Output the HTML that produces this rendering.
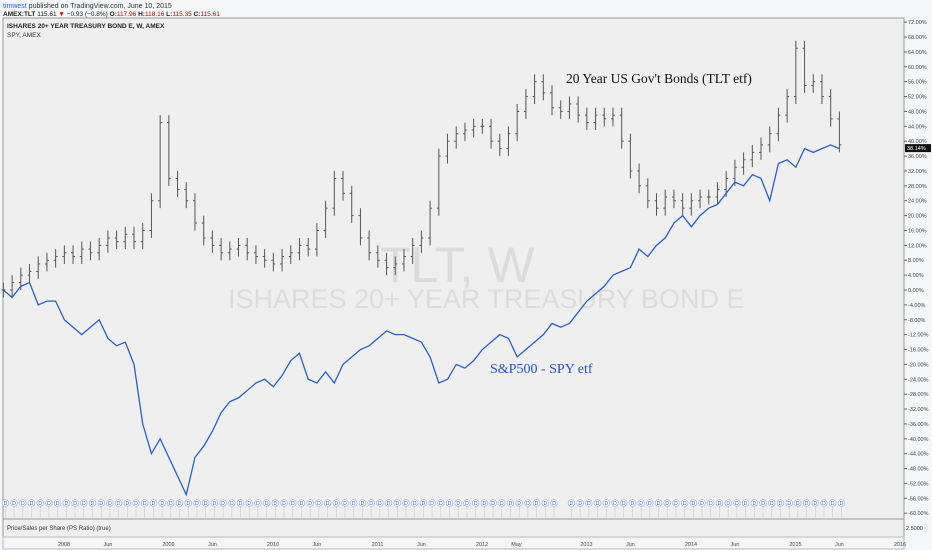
<!DOCTYPE html>
<html><head><meta charset="utf-8"><style>
body{margin:0;width:932px;height:550px;overflow:hidden;background:#fff;font-family:"Liberation Sans",sans-serif}
svg{display:block}
</style></head><body>
<svg id="c" width="932" height="550">
<rect x="0" y="0" width="932" height="550" fill="#f5f6f8"/>
<rect x="3" y="18" width="901" height="501" fill="#efefef" stroke="#999" stroke-width="1"/>
<rect x="3" y="519" width="901" height="18" fill="#efefef" stroke="#999"/>
<rect x="3" y="537" width="901" height="12" fill="#f5f5f5" stroke="#bbb"/>
<text x="380" y="282" font-size="50" fill="#dcdcdc">TLT, W</text>
<text x="228" y="308" font-size="27" fill="#dcdcdc">ISHARES 20+ YEAR TREASURY BOND E</text>
<g id="grid"></g><g id="tlt"></g><g id="spy"></g><g id="divs"></g><g id="yax"></g><g id="xax"></g>
<text x="3" y="8" font-size="7" fill="#333"><tspan fill="#2962ff">timwest</tspan> published on TradingView.com, June 10, 2015</text>
<text x="3" y="16" font-size="6.5" fill="#222" font-weight="bold">AMEX:TLT <tspan font-weight="normal">115.61 </tspan><tspan fill="#c00">▼</tspan><tspan font-weight="normal"> −0.93 (−0.8%) </tspan>O:<tspan fill="#c00" font-weight="normal">117.96</tspan> H:<tspan fill="#c00" font-weight="normal">118.16</tspan> L:<tspan fill="#c00" font-weight="normal">115.35</tspan> C:<tspan fill="#c00" font-weight="normal">115.61</tspan></text>
<text x="7" y="28" font-size="6.5" font-weight="bold" fill="#222">ISHARES 20+ YEAR TREASURY BOND E, W, AMEX</text>
<text x="7" y="37" font-size="6.5" fill="#333">SPY, AMEX</text>
<text x="566" y="83" font-size="13.5" font-family="Liberation Serif,serif" fill="#111">20 Year US Gov't Bonds (TLT etf)</text>
<text x="490" y="373" font-size="14" font-family="Liberation Serif,serif" fill="#2255c4">S&amp;P500 - SPY etf</text>
<text x="7" y="530" font-size="6" fill="#333">Price/Sales per Share (PS Ratio) (true)</text>
<text x="906" y="530" font-size="5.5" fill="#333">2.5000</text>
</svg>
<script>
const years=[2007.42];
const tltVals=[0,2,4,5,7,8,9,
10,9,11,10,12,14,13,15,13,16,24,45,
30,27,24,18,14,12,10,11,12,10,9,8,
7,9,10,12,11,16,22,30,26,20,14,10,
8,6,7,9,12,14,22,36,40,42,43,44,
44,40,38,42,48,52,56,53,49,48,50,47,
45,47,46,47,40,32,28,24,22,25,24,22,
24,25,25,27,30,33,35,37,39,42,47,52,
65,55,56,52,46,39];
const spyVals=[0,-2,1,2,-4,-3,-3,
-8,-10,-12,-10,-8,-13,-15,-14,-20,-36,-44,-40,
-45,-50,-55,-45,-42,-38,-33,-30,-29,-27,-25,-24,
-26,-23,-19,-17,-24,-25,-22,-25,-20,-18,-16,-15,
-13,-11,-12,-12,-13,-14,-18,-25,-24,-20,-21,-19,
-16,-14,-12,-13,-18,-16,-14,-12,-9,-10,-9,-6,
-3,-1,1,4,5,6,11,9,12,14,18,20,
17,20,22,23,26,29,28,31,30,24,34,35,
33,38,37,38,39,38];
const yTicks=[72,68,64,60,56,52,48,44,40,36,32,28,24,20,16,12,8,4,0,-4,-8,-12,-16,-20,-24,-28,-32,-36,-40,-44,-48,-52,-56,-60];
const xTickLabels=["2008","Jun","2009","Jun","2010","Jun","2011","Jun","2012","May","2013","Jun","2014","Jun","2015","Jun","2016"];
const xTickTimes=[2008,2008.42,2009,2009.42,2010,2010.42,2011,2011.42,2012,2012.33,2013,2013.42,2014,2014.42,2015,2015.42,2016];
const lastValue=38.14;
const NS="http://www.w3.org/2000/svg";
const X=t=>64+(t-2008)*104.5;
const Y=p=>290-p*3.72;
const tm=i=>years[0]+i/12;
function mk(tag,attrs,parent){const e=document.createElementNS(NS,tag);for(const k in attrs)e.setAttribute(k,attrs[k]);document.getElementById(parent).appendChild(e);return e;}
yTicks.forEach(v=>{
  const l=mk('line',{x1:904,x2:907,y1:Y(v),y2:Y(v),stroke:'#666'},'yax');
  
  
  const t=mk('text',{x:908,y:Y(v)+2,'font-size':5.5,fill:'#444'},'yax');
  t.textContent=v.toFixed(2)+'%';
  
  
});
const lb=mk('rect',{x:905,y:Y(lastValue)-4,width:26,height:8,fill:'#111'},'yax');


const lt=mk('text',{x:907,y:Y(lastValue)+2,'font-size':5.5,fill:'#fff'},'yax');
lt.textContent=lastValue.toFixed(2)+'%';


xTickLabels.forEach((s,i)=>{
  const t=mk('text',{x:X(xTickTimes[i]),y:546,'font-size':5.5,fill:'#444','text-anchor':'middle'},'xax');
  t.textContent=s;
  
  
});
tltVals.forEach((v,i)=>{
  const prev=i?tltVals[i-1]:v;
  const hi=Math.max(prev,v)+2, lo=Math.min(prev,v)-2, x=X(tm(i));
  const g=mk('g',{stroke:'#555','stroke-width':1},'tlt');
  
  
  [[x,Y(hi),x,Y(lo)],[x-2,Y(prev),x,Y(prev)],[x,Y(v),x+2,Y(v)]].forEach(a=>{
    const l=document.createElementNS(NS,'line');
    l.setAttribute('x1',a[0]);l.setAttribute('y1',a[1]);l.setAttribute('x2',a[2]);l.setAttribute('y2',a[3]);g.appendChild(l);
  });
});
const pl=mk('polyline',{points:spyVals.map((v,i)=>X(tm(i))+','+Y(v)).join(' '),fill:'none',stroke:'#2a5fc7','stroke-width':1.3},'spy');


for(let i=0;i<tltVals.length;i++){
  const x=X(tm(i))+2;
  if(Math.abs(x-566)<4) continue;
  const l=mk('line',{x1:x,x2:x,y1:507,y2:518,stroke:'#ccc','stroke-width':0.6},'divs');
  
  
  const c=mk('circle',{cx:x,cy:503,r:3.3,fill:'#fff',stroke:'#9bb4e0','stroke-width':0.7},'divs');
  
  
  const t=mk('text',{x:x,y:505,'font-size':5,fill:'#3a66c4','text-anchor':'middle'},'divs');
  t.textContent='D';
  
  
}
</script>
</body></html>
